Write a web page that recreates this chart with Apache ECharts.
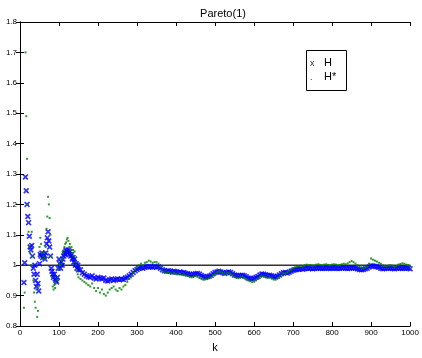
<!DOCTYPE html>
<html>
<head>
<meta charset="utf-8">
<script src="https://cdn.jsdelivr.net/npm/echarts@6/dist/echarts.min.js"></script>
<style>
html, body { margin: 0; padding: 0; background: #fff; }
#chart { width: 422px; height: 358px; }
</style>
</head>
<body>
<div id="chart"></div>
<script>
// k 取样点（前段每 2，后段每 5）
const kVals = [
	10, 12, 14, 16, 18, 20, 22, 24, 26, 28,
	30, 32, 34, 36, 38, 40, 42, 44, 46, 48,
	50, 52, 54, 56, 58, 60, 62, 64, 66, 68,
	70, 72, 74, 76, 78, 80, 82, 84, 86, 88,
	90, 92, 94, 96, 98, 100, 102, 104, 106, 108,
	110, 112, 114, 116, 118, 120, 122, 124, 126, 128,
	130, 132, 134, 136, 138, 140, 142, 144, 146, 148,
	150,
	155, 160, 165, 170, 175, 180, 185, 190, 195, 200,
	205, 210, 215, 220, 225, 230, 235, 240, 245, 250,
	255, 260, 265, 270, 275, 280, 285, 290, 295, 300,
	305, 310, 315, 320, 325, 330, 335, 340, 345, 350,
	355, 360, 365, 370, 375, 380, 385, 390, 395, 400,
	405, 410, 415, 420, 425, 430, 435, 440, 445, 450,
	455, 460, 465, 470, 475, 480, 485, 490, 495, 500,
	505, 510, 515, 520, 525, 530, 535, 540, 545, 550,
	555, 560, 565, 570, 575, 580, 585, 590, 595, 600,
	605, 610, 615, 620, 625, 630, 635, 640, 645, 650,
	655, 660, 665, 670, 675, 680, 685, 690, 695, 700,
	705, 710, 715, 720, 725, 730, 735, 740, 745, 750,
	755, 760, 765, 770, 775, 780, 785, 790, 795, 800,
	805, 810, 815, 820, 825, 830, 835, 840, 845, 850,
	855, 860, 865, 870, 875, 880, 885, 890, 895, 900,
	905, 910, 915, 920, 925, 930, 935, 940, 945, 950,
	955, 960, 965, 970, 975, 980, 985, 990, 995, 1000
];
// H（蓝色 x）
const hVals = [
	0.943, 1.008, 1.29, 1.245, 1.2, 1.16, 1.14, 1.095, 1.06, 1.05,
	1.065, 1.03, 0.99, 0.97, 1.0, 0.95, 0.93, 0.97, 0.94, 0.915,
	1.005, 1.035, 1.03, 1.04, 1.025, 1.035, 1.03, 1.02, 1.04, 1.07,
	1.09, 1.11, 1.08, 1.06, 1.03, 0.99, 0.98, 0.97, 0.96, 0.97,
	0.955, 0.95, 0.945, 0.96, 0.99, 1.02, 1.005, 0.99, 1.01, 1.0,
	1.02, 1.03, 1.04, 1.035, 1.05, 1.045, 1.04, 1.05, 1.035, 1.045,
	1.03, 1.035, 1.02, 1.025, 1.01, 1.02, 1.0, 1.005, 0.99, 1.0,
	0.985,
	0.985, 0.975, 0.97, 0.965, 0.962, 0.96, 0.965, 0.958, 0.955, 0.96,
	0.957, 0.955, 0.958, 0.95, 0.948, 0.952, 0.955, 0.95, 0.953, 0.955,
	0.952, 0.955, 0.953, 0.958, 0.96, 0.965, 0.97, 0.976, 0.982, 0.986,
	0.99, 0.992, 0.99, 0.993, 0.995, 0.996, 0.995, 0.993, 0.996, 0.994,
	0.995, 0.99, 0.985, 0.982, 0.98, 0.982, 0.98, 0.978, 0.98, 0.978,
	0.976, 0.978, 0.975, 0.976, 0.973, 0.972, 0.97, 0.968, 0.97, 0.972,
	0.973, 0.97, 0.966, 0.963, 0.96, 0.962, 0.964, 0.967, 0.972, 0.976,
	0.978, 0.98, 0.978, 0.975, 0.973, 0.976, 0.978, 0.976, 0.972, 0.968,
	0.966, 0.965, 0.966, 0.967, 0.965, 0.962, 0.958, 0.956, 0.955, 0.957,
	0.96, 0.963, 0.968, 0.971, 0.97, 0.968, 0.966, 0.967, 0.965, 0.962,
	0.961, 0.964, 0.968, 0.972, 0.975, 0.976, 0.974, 0.977, 0.98, 0.983,
	0.985, 0.986, 0.987, 0.988, 0.987, 0.989, 0.99, 0.989, 0.99, 0.988,
	0.989, 0.99, 0.991, 0.99, 0.989, 0.99, 0.991, 0.99, 0.989, 0.99,
	0.991, 0.99, 0.989, 0.99, 0.991, 0.992, 0.99, 0.989, 0.99, 0.992,
	0.991, 0.99, 0.988, 0.986, 0.985, 0.986, 0.988, 0.99, 0.994, 0.998,
	0.997, 0.996, 0.995, 0.993, 0.99, 0.988, 0.989, 0.99, 0.991, 0.99,
	0.989, 0.988, 0.99, 0.991, 0.99, 0.989, 0.99, 0.991, 0.99, 0.988
];
// H*（绿色点）
const hStarVals = [
	0.86, 0.91, 1.70, 1.49, 1.35, 1.2, 1.11, 1.06, 1.04, 1.0,
	1.11, 1.03, 0.95, 0.91, 0.88, 0.86, 0.92, 0.83, 0.85, 0.93,
	1.06, 1.09, 1.07, 1.04, 1.02, 1.03, 1.04, 1.02, 1.06, 1.12,
	1.16, 1.225, 1.2, 1.155, 1.1, 1.03, 0.96, 0.93, 0.92, 0.935,
	0.925, 0.94, 0.95, 0.96, 0.985, 1.005, 1.0, 1.0, 1.015, 1.02,
	1.04, 1.05, 1.06, 1.07, 1.075, 1.085, 1.09, 1.08, 1.06, 1.07,
	1.05, 1.06, 1.04, 1.05, 1.03, 1.045, 1.01, 1.0, 0.98, 0.97,
	0.96,
	0.955, 0.95, 0.945, 0.94, 0.935, 0.93, 0.94, 0.925, 0.915, 0.925,
	0.91, 0.92, 0.905, 0.9, 0.91, 0.92, 0.925, 0.93, 0.92, 0.915,
	0.925, 0.92, 0.93, 0.935, 0.945, 0.955, 0.965, 0.975, 0.985, 0.993,
	1.0, 1.005, 1.0, 1.008, 1.01, 1.015, 1.012, 1.008, 1.01, 1.01,
	1.005, 0.995, 0.985, 0.978, 0.975, 0.976, 0.974, 0.972, 0.974, 0.972,
	0.97, 0.972, 0.968, 0.969, 0.966, 0.965, 0.962, 0.96, 0.962, 0.964,
	0.962, 0.958, 0.955, 0.952, 0.953, 0.955, 0.958, 0.962, 0.968, 0.972,
	0.976, 0.98, 0.977, 0.974, 0.97, 0.973, 0.976, 0.972, 0.968, 0.962,
	0.958, 0.957, 0.96, 0.962, 0.958, 0.954, 0.95, 0.947, 0.944, 0.946,
	0.95, 0.955, 0.962, 0.965, 0.963, 0.96, 0.958, 0.96, 0.957, 0.953,
	0.952, 0.957, 0.963, 0.97, 0.974, 0.972, 0.975, 0.98, 0.985, 0.99,
	0.993, 0.995, 0.997, 0.998, 0.997, 1.0, 1.002, 1.0, 1.001, 0.999,
	1.0, 1.002, 1.003, 1.001, 1.0, 1.002, 1.003, 1.001, 1.0, 1.002,
	1.003, 1.002, 1.0, 1.001, 1.003, 1.005, 1.003, 1.006, 1.01, 1.014,
	1.01, 1.005, 1.0, 0.995, 0.992, 0.99, 0.992, 0.995, 1.005, 1.022,
	1.018, 1.015, 1.012, 1.008, 1.005, 1.0, 0.998, 0.997, 0.999, 1.0,
	0.998, 0.996, 0.998, 1.002, 1.004, 1.006, 1.005, 1.002, 1.0, 0.998
];
// 参考线 y = 1
const refK = [0, 1000];
const refV = [1, 1];

const FONT = "'Liberation Sans Narrow', 'Liberation Sans', Arial, sans-serif";
const zip = (xs, ys) => xs.map((x, i) => [x, ys[i]]);
const xMark = 'path://M0,2L2,0L5,3L8,0L10,2L7,5L10,8L8,10L5,7L2,10L0,8L3,5Z';

const myChart = echarts.init(document.getElementById('chart'));

const axisCommon = {
	type: 'value',
	splitLine: { show: false },
	axisLine: { show: true, lineStyle: { color: '#000', width: 1 } },
	axisTick: { show: true, inside: true, length: 4, lineStyle: { color: '#000' } }
};

const option = {
	animation: false,
	backgroundColor: '#fff',
	title: {
		text: 'Pareto(1)',
		left: 218,
		textAlign: 'center',
		top: 3,
		textStyle: { fontFamily: FONT, fontSize: 11, fontWeight: 'normal', color: '#000' }
	},
	grid: { left: 20, right: 6, top: 22, bottom: 29 },
	xAxis: [
		Object.assign({}, axisCommon, {
			min: 0, max: 1000, interval: 100,
			name: 'k', nameLocation: 'middle', nameGap: 16,
			nameTextStyle: { fontFamily: FONT, fontSize: 11, color: '#000' },
			axisLabel: { fontFamily: FONT, fontSize: 8, color: '#000', margin: 3, formatter: v => String(v) }
		}),
		Object.assign({}, axisCommon, {
			position: 'top', min: 0, max: 1000, interval: 100,
			axisLabel: { show: false }
		})
	],
	yAxis: [
		Object.assign({}, axisCommon, {
			min: 0.8, max: 1.8, interval: 0.1,
			axisLabel: {
				fontFamily: FONT, fontSize: 8, color: '#000', margin: 3,
				formatter: v => (Math.abs(v - 1) < 1e-9 ? '1' : v.toFixed(1))
			}
		}),
		Object.assign({}, axisCommon, {
			position: 'right', min: 0.8, max: 1.8, interval: 0.1,
			axisLabel: { show: false }
		})
	],
	series: [
		{
			name: 'ref',
			type: 'line',
			data: zip(refK, refV),
			symbol: 'none',
			lineStyle: { color: '#333', width: 1.5 },
			z: 2
		},
		{
			name: 'H',
			type: 'scatter',
			data: zip(kVals, hVals),
			symbol: xMark,
			symbolSize: 6,
			itemStyle: { color: '#0000ff' },
			z: 3
		},
		{
			name: 'H*',
			type: 'scatter',
			data: zip(kVals, hStarVals),
			symbol: 'rect',
			symbolSize: 2,
			itemStyle: { color: '#008000' },
			z: 4
		}
	],
	graphic: [
		{
			type: 'rect',
			shape: { x: 306.5, y: 50.5, width: 40, height: 40 },
			style: { fill: '#fff', stroke: '#000', lineWidth: 1 },
			z: 10
		},
		{ type: 'text', x: 310, y: 59, style: { text: 'x', font: '9px ' + FONT, fill: '#333' }, z: 11 },
		{ type: 'text', x: 324, y: 57, style: { text: 'H', font: '11px ' + FONT, fill: '#000' }, z: 11 },
		{ type: 'text', x: 310, y: 73, style: { text: '.', font: '9px ' + FONT, fill: '#333' }, z: 11 },
		{ type: 'text', x: 324, y: 71, style: { text: 'H*', font: '11px ' + FONT, fill: '#000' }, z: 11 }
	]
};

myChart.setOption(option);
</script>
</body>
</html>
